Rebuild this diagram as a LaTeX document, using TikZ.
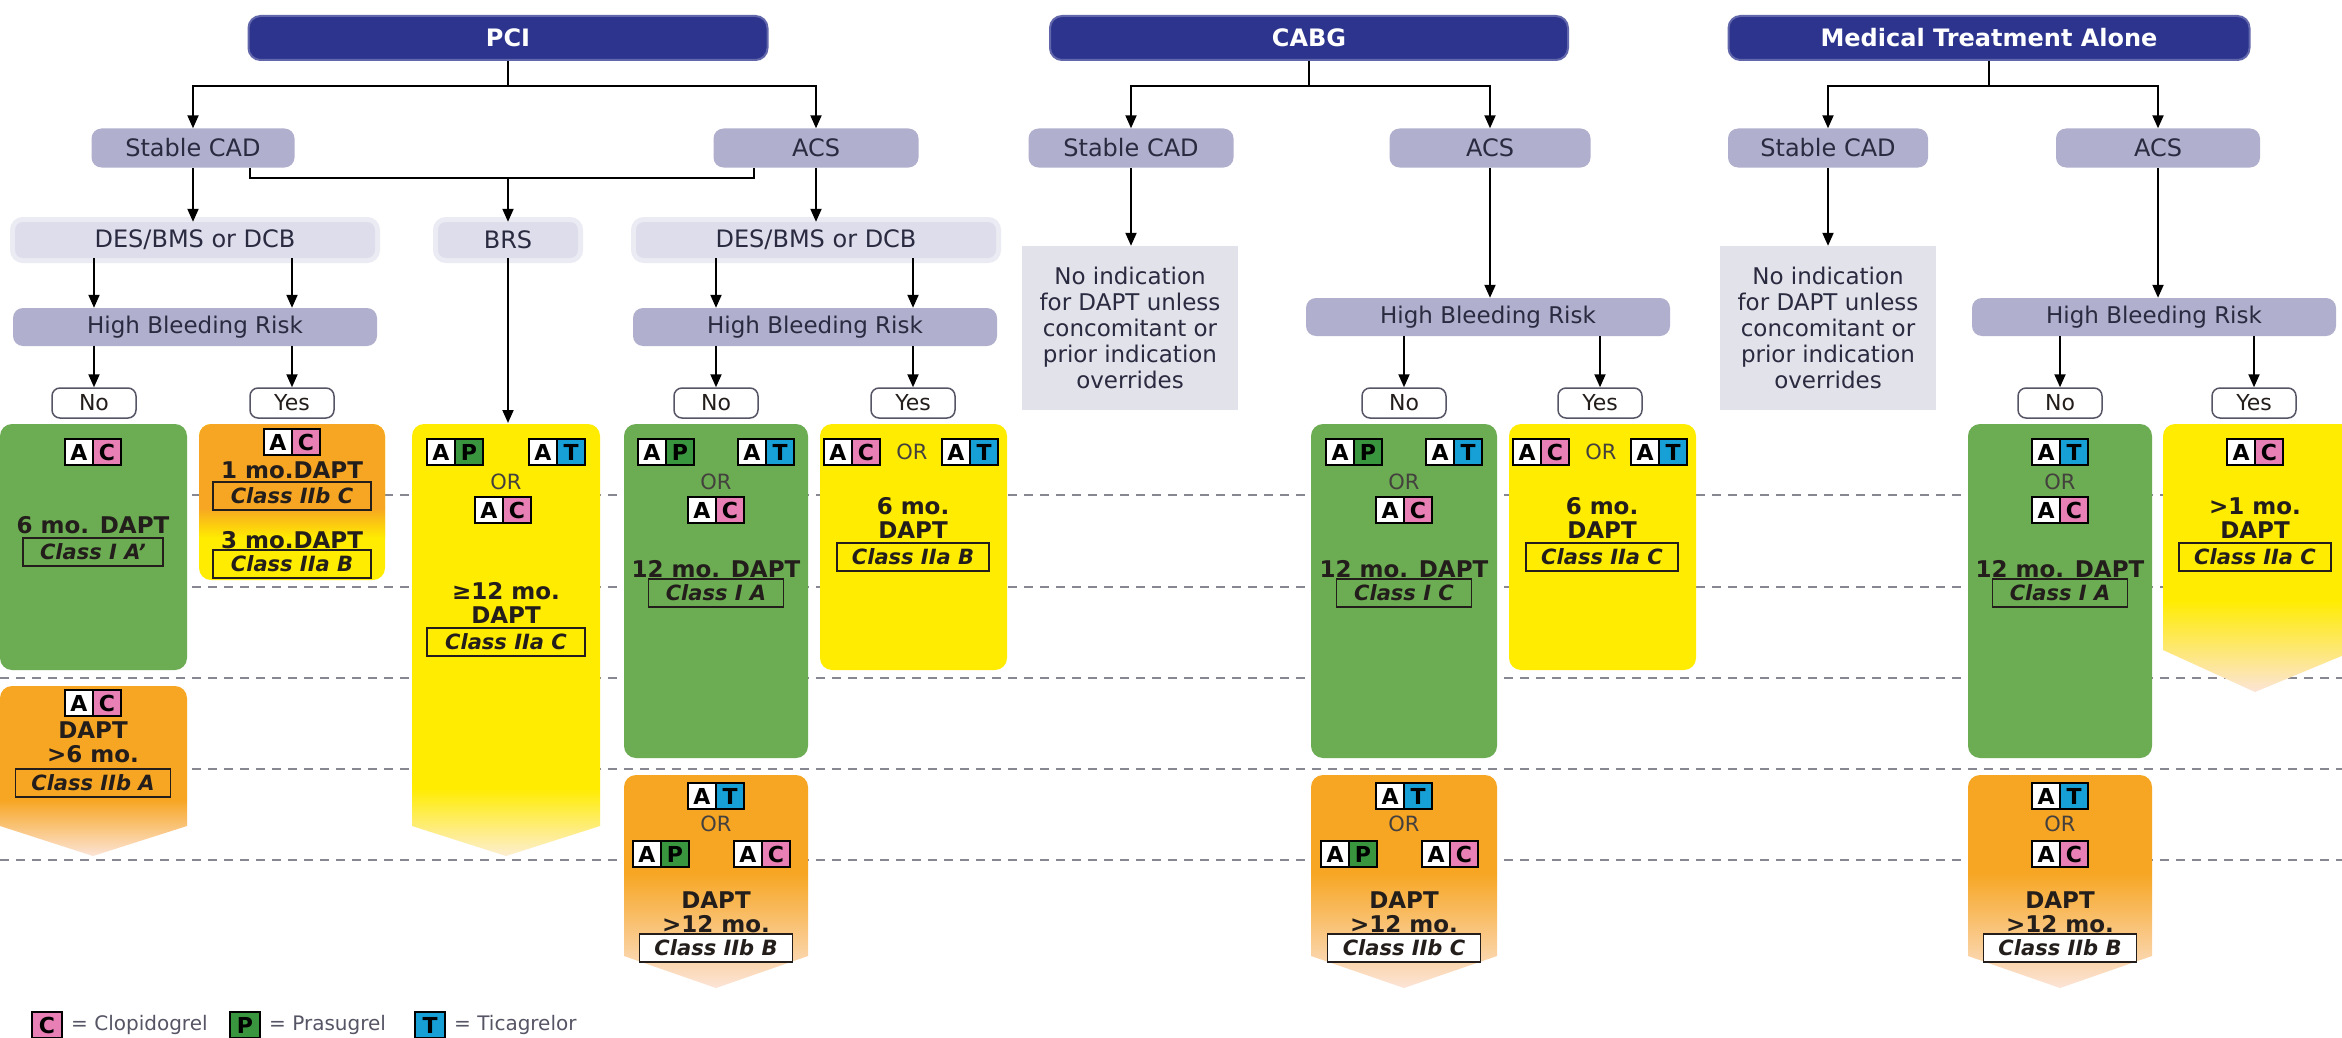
\documentclass[tikz,border=0pt]{standalone}
\usepackage{fontspec}
\setmainfont{DejaVu Sans}
\usetikzlibrary{arrows.meta,calc}
\definecolor{hdrblue}{RGB}{44,52,142}
\definecolor{catfill}{RGB}{176,175,205}
\definecolor{desfill}{RGB}{221,221,236}
\definecolor{nofill}{RGB}{226,226,234}
\definecolor{gbox}{RGB}{108,172,82}
\definecolor{obox}{RGB}{247,166,35}
\definecolor{ybox}{RGB}{255,236,0}
\definecolor{ofade}{RGB}{252,228,215}
\definecolor{yfade}{RGB}{253,238,210}
\definecolor{cpink}{RGB}{232,128,182}
\definecolor{pgreen}{RGB}{58,150,62}
\definecolor{tblue}{RGB}{22,160,214}
\definecolor{dtext}{RGB}{35,30,28}
\definecolor{ctext}{RGB}{42,42,64}
\definecolor{dashgray}{RGB}{135,135,145}
\newcommand{\drugpair}[5]{%
  \node[abox] (#1a) at ({#2-14},#3) {A};
  \node[abox, fill=#5] (#1b) at ({#2+14},#3) {#4};
}
\begin{document}
\begin{tikzpicture}[x=1pt,y=-1pt,
  hdr/.style={fill=hdrblue, draw=hdrblue!75!white, line width=2pt, rounded corners=12pt, text=white, font=\fontsize{24}{28}\selectfont\bfseries, minimum height=44pt, inner sep=0pt},
  cat/.style={fill=catfill, rounded corners=10pt, text=ctext, font=\fontsize{24}{28}\selectfont, minimum height=39pt, inner sep=0pt},
  des/.style={preaction={draw=desfill!60!white, line width=10pt}, fill=desfill, rounded corners=8pt, text=ctext, font=\fontsize{24}{28}\selectfont, minimum height=36pt, inner sep=0pt},
  hbr/.style={fill=catfill, rounded corners=10pt, text=ctext, font=\fontsize{23}{28}\selectfont, minimum height=38pt, minimum width=364pt, inner sep=0pt},
  yn/.style={fill=white, draw=ctext!80, line width=1.5pt, rounded corners=8pt, text=dtext, font=\fontsize{22}{26}\selectfont, minimum width=84pt, minimum height=30pt, inner sep=0pt},
  noind/.style={fill=nofill, text=ctext, font=\fontsize{23}{26}\selectfont, align=center, minimum width=216pt, minimum height=164pt, inner sep=0pt},
  res/.style={text=dtext, font=\fontsize{23}{24}\selectfont\bfseries, align=center, inner sep=0pt},
  cls/.style={draw=dtext, line width=1.8pt, text=dtext, font=\fontsize{21}{24}\selectfont\bfseries\itshape, minimum height=28pt, minimum width=152pt, inner sep=0pt},
  orw/.style={text=dtext!85, font=\fontsize{21}{24}\selectfont, inner sep=0pt},
  abox/.style={fill=white, draw=black, line width=1.7pt, minimum width=28pt, minimum height=26pt, inner sep=0pt, font=\fontsize{22}{24}\selectfont\bfseries, text=black},
  conn/.style={line width=2pt, draw=black},
  arr/.style={conn, -{Triangle[length=13pt, width=11pt]}},
  dashl/.style={draw=dashgray, line width=1.5pt, dash pattern=on 9pt off 7pt},
  legt/.style={anchor=west, font=\fontsize{20}{24}\selectfont, text=ctext!80, inner sep=0pt}
]
\useasboundingbox (0,0) rectangle (2342,1038);
\fill[white] (0,0) rectangle (2342,1038);
% dashed time lines
\foreach \yy in {495,587,678,769,860} \draw[dashl] (0,\yy) -- (2342,\yy);

% ---------- result boxes (shapes) ----------
\fill[gbox, rounded corners=12pt] (0,424) rectangle (187,670);
\fill[ybox, rounded corners=12pt] (199,424) rectangle (385,580);
\fill[obox, rounded corners=12pt] (199,424) rectangle (385,520);
\shade[top color=obox, bottom color=ybox] (199,508) rectangle (385,538);
\fill[obox, rounded corners=12pt] (0,686) rectangle (187,812);
\shade[top color=obox, bottom color=ofade] (0,800) -- (187,800) -- (187,826) -- (93,856) -- (0,826) -- cycle;
\fill[ybox, rounded corners=12pt] (412,424) rectangle (600,800);
\shade[top color=ybox, bottom color=yfade] (412,788) -- (600,788) -- (600,826) -- (506,856) -- (412,826) -- cycle;
\fill[gbox, rounded corners=12pt] (624,424) rectangle (808,758);
\fill[ybox, rounded corners=12pt] (820,424) rectangle (1007,670);
\fill[obox, rounded corners=12pt] (624,775) rectangle (808,885);
\shade[top color=obox, bottom color=ofade] (624,873) -- (808,873) -- (808,956) -- (716,988) -- (624,956) -- cycle;
\fill[gbox, rounded corners=12pt] (1311,424) rectangle (1497,758);
\fill[ybox, rounded corners=12pt] (1509,424) rectangle (1696,670);
\fill[obox, rounded corners=12pt] (1311,775) rectangle (1497,885);
\shade[top color=obox, bottom color=ofade] (1311,873) -- (1497,873) -- (1497,956) -- (1404,988) -- (1311,956) -- cycle;
\fill[gbox, rounded corners=12pt] (1968,424) rectangle (2152,758);
\fill[ybox, rounded corners=12pt] (2163,424) rectangle (2356,612);
\shade[top color=ybox, bottom color=ofade] (2163,600) -- (2356,600) -- (2356,650) -- (2255,692) -- (2163,650) -- cycle;
\fill[obox, rounded corners=12pt] (1968,775) rectangle (2152,885);
\shade[top color=obox, bottom color=ofade] (1968,873) -- (2152,873) -- (2152,956) -- (2060,988) -- (1968,956) -- cycle;

% ---------- headers ----------
\node[hdr, minimum width=519pt] (pci) at (508,38) {PCI};
\node[hdr, minimum width=518pt] (cabg) at (1309,38) {CABG};
\node[hdr, minimum width=521pt] (mta) at (1989,38) {Medical Treatment Alone};

% ---------- categories ----------
\node[cat, minimum width=203pt] (pscad) at (193,148) {Stable CAD};
\node[cat, minimum width=205pt] (pacs) at (816,148) {ACS};
\node[cat, minimum width=205pt] (cscad) at (1131,148) {Stable CAD};
\node[cat, minimum width=201pt] (cacs) at (1490,148) {ACS};
\node[cat, minimum width=200pt] (mscad) at (1828,148) {Stable CAD};
\node[cat, minimum width=204pt] (macs) at (2158,148) {ACS};

% ---------- device ----------
\node[des, minimum width=360pt] (pdes1) at (195,240) {DES/BMS or DCB};
\node[des, minimum width=140pt] (pbrs) at (508,240) {BRS};
\node[des, minimum width=360pt] (pdes2) at (816,240) {DES/BMS or DCB};

% ---------- bleeding risk ----------
\node[hbr] (phbr1) at (195,327) {High Bleeding Risk};
\node[hbr] (phbr2) at (815,327) {High Bleeding Risk};
\node[hbr] (chbr) at (1488,317) {High Bleeding Risk};
\node[hbr] (mhbr) at (2154,317) {High Bleeding Risk};

% ---------- yes / no ----------
\node[yn] (pno1) at (94,403) {No};
\node[yn] (pyes1) at (292,403) {Yes};
\node[yn] (pno2) at (716,403) {No};
\node[yn] (pyes2) at (913,403) {Yes};
\node[yn] (cno) at (1404,403) {No};
\node[yn] (cyes) at (1600,403) {Yes};
\node[yn] (mno) at (2060,403) {No};
\node[yn] (myes) at (2254,403) {Yes};

% ---------- no indication ----------
\node[noind] (cnoind) at (1130,328) {No indication\\for DAPT unless\\concomitant or\\prior indication\\overrides};
\node[noind] (mnoind) at (1828,328) {No indication\\for DAPT unless\\concomitant or\\prior indication\\overrides};

% ---------- connectors ----------
\draw[conn] (pci.south) -- ++(0,25) coordinate (pcib);
\draw[arr] (pcib) -| (pscad.north);
\draw[arr] (pcib) -| (pacs.north);
\draw[conn] (cabg.south) -- ++(0,25) coordinate (cabgb);
\draw[arr] (cabgb) -| (cscad.north);
\draw[arr] (cabgb) -| (cacs.north);
\draw[conn] (mta.south) -- ++(0,25) coordinate (mtab);
\draw[arr] (mtab) -| (mscad.north);
\draw[arr] (mtab) -| (macs.north);

\draw[arr] (pscad.south) -- (pscad.south |- pdes1.north);
\draw[arr] (pacs.south) -- (pacs.south |- pdes2.north);
\coordinate (brsl) at ($(pscad.south east)+(-45,0)$);
\coordinate (brsr) at ($(pacs.south west)+(41,0)$);
\coordinate (brsm) at ($(brsl)+(0,10)$);
\draw[conn] (brsl) -- (brsm) -| (brsr);
\draw[arr] (brsm -| pbrs.north) -- (pbrs.north);
\coordinate (brsbox) at (506,423);
\draw[arr] (pbrs.south) -- (pbrs.south |- brsbox);

\draw[arr] (pdes1.south -| pno1) -- (phbr1.north -| pno1);
\draw[arr] (pdes1.south -| pyes1) -- (phbr1.north -| pyes1);
\draw[arr] (pdes2.south -| pno2) -- (phbr2.north -| pno2);
\draw[arr] (pdes2.south -| pyes2) -- (phbr2.north -| pyes2);
\draw[arr] (phbr1.south -| pno1) -- (pno1.north);
\draw[arr] (phbr1.south -| pyes1) -- (pyes1.north);
\draw[arr] (phbr2.south -| pno2) -- (pno2.north);
\draw[arr] (phbr2.south -| pyes2) -- (pyes2.north);

\draw[arr] (cscad.south) -- (cscad.south |- cnoind.north);
\draw[arr] (cacs.south) -- (cacs.south |- chbr.north);
\draw[arr] (chbr.south -| cno) -- (cno.north);
\draw[arr] (chbr.south -| cyes) -- (cyes.north);
\draw[arr] (mscad.south) -- (mscad.south |- mnoind.north);
\draw[arr] (macs.south) -- (macs.south |- mhbr.north);
\draw[arr] (mhbr.south -| mno) -- (mno.north);
\draw[arr] (mhbr.south -| myes) -- (myes.north);

% ---------- result contents ----------
\drugpair{g1i}{93}{452}{C}{cpink}
\node[res] (g1t) at (93,525) {6 mo. DAPT};
\node[cls, minimum width=140pt] (g1c) at (93,552) {Class I A'};
\drugpair{y1i}{292}{442}{C}{cpink}
\node[res] (y1t1) at (292,470) {1 mo.DAPT};
\node[cls, minimum width=158pt] (y1c1) at (292,496) {Class IIb C};
\node[res] (y1t2) at (292,540) {3 mo.DAPT};
\node[cls, minimum width=158pt] (y1c2) at (292,564) {Class IIa B};
\drugpair{o1i}{93}{703}{C}{cpink}
\node[res] (o1t) at (93,742) {DAPT\\>6 mo.};
\node[cls, minimum width=155pt] (o1c) at (93,783) {Class IIb A};
\drugpair{bi1}{455}{452}{P}{pgreen}
\drugpair{bi2}{557}{452}{T}{tblue}
\node[orw] (bor) at (506,482) {OR};
\drugpair{bi3}{503}{510}{C}{cpink}
\node[res] (bt) at (506,603) {≥12 mo.\\DAPT};
\node[cls, minimum width=158pt] (bc) at (506,642) {Class IIa C};
\drugpair{g2i1}{666}{452}{P}{pgreen}
\drugpair{g2i2}{766}{452}{T}{tblue}
\node[orw] (g2or) at (716,482) {OR};
\drugpair{g2i3}{716}{510}{C}{cpink}
\node[res] (g2t) at (716,569) {12 mo. DAPT};
\node[cls, minimum width=135pt] (g2c) at (716,593) {Class I A};
\drugpair{y2i1}{852}{452}{C}{cpink}
\node[orw] (y2or) at (912,452) {OR};
\drugpair{y2i2}{970}{452}{T}{tblue}
\node[res] (y2t) at (913,518) {6 mo.\\DAPT};
\node[cls, minimum width=152pt] (y2c) at (913,557) {Class IIa B};
\drugpair{o2i1}{716}{796}{T}{tblue}
\node[orw] (o2or) at (716,824) {OR};
\drugpair{o2i2}{661}{854}{P}{pgreen}
\drugpair{o2i3}{762}{854}{C}{cpink}
\node[res] (o2t) at (716,912) {DAPT\\>12 mo.};
\node[cls, minimum width=153pt, fill=white] (o2c) at (716,948) {Class IIb B};
\drugpair{g3i1}{1354}{452}{P}{pgreen}
\drugpair{g3i2}{1454}{452}{T}{tblue}
\node[orw] (g3or) at (1404,482) {OR};
\drugpair{g3i3}{1404}{510}{C}{cpink}
\node[res] (g3t) at (1404,569) {12 mo. DAPT};
\node[cls, minimum width=135pt] (g3c) at (1404,593) {Class I C};
\drugpair{y3i1}{1541}{452}{C}{cpink}
\node[orw] (y3or) at (1601,452) {OR};
\drugpair{y3i2}{1659}{452}{T}{tblue}
\node[res] (y3t) at (1602,518) {6 mo.\\DAPT};
\node[cls, minimum width=152pt] (y3c) at (1602,557) {Class IIa C};
\drugpair{o3i1}{1404}{796}{T}{tblue}
\node[orw] (o3or) at (1404,824) {OR};
\drugpair{o3i2}{1349}{854}{P}{pgreen}
\drugpair{o3i3}{1450}{854}{C}{cpink}
\node[res] (o3t) at (1404,912) {DAPT\\>12 mo.};
\node[cls, minimum width=153pt, fill=white] (o3c) at (1404,948) {Class IIb C};
\drugpair{g4i1}{2060}{452}{T}{tblue}
\node[orw] (g4or) at (2060,482) {OR};
\drugpair{g4i2}{2060}{510}{C}{cpink}
\node[res] (g4t) at (2060,569) {12 mo. DAPT};
\node[cls, minimum width=135pt] (g4c) at (2060,593) {Class I A};
\drugpair{y4i}{2255}{452}{C}{cpink}
\node[res] (y4t) at (2255,518) {>1 mo.\\DAPT};
\node[cls, minimum width=152pt] (y4c) at (2255,557) {Class IIa C};
\drugpair{o4i1}{2060}{796}{T}{tblue}
\node[orw] (o4or) at (2060,824) {OR};
\drugpair{o4i2}{2060}{854}{C}{cpink}
\node[res] (o4t) at (2060,912) {DAPT\\>12 mo.};
\node[cls, minimum width=153pt, fill=white] (o4c) at (2060,948) {Class IIb B};

% ---------- legend ----------
\node[abox, fill=cpink, minimum width=30pt] (lc) at (47,1025) {C};
\node[legt] (lct) at (71,1025) {= Clopidogrel};
\node[abox, fill=pgreen, minimum width=30pt] (lp) at (245,1025) {P};
\node[legt] (lpt) at (269,1025) {= Prasugrel};
\node[abox, fill=tblue, minimum width=30pt] (lt) at (430,1025) {T};
\node[legt] (ltt) at (454,1025) {= Ticagrelor};
\end{tikzpicture}
\end{document}
